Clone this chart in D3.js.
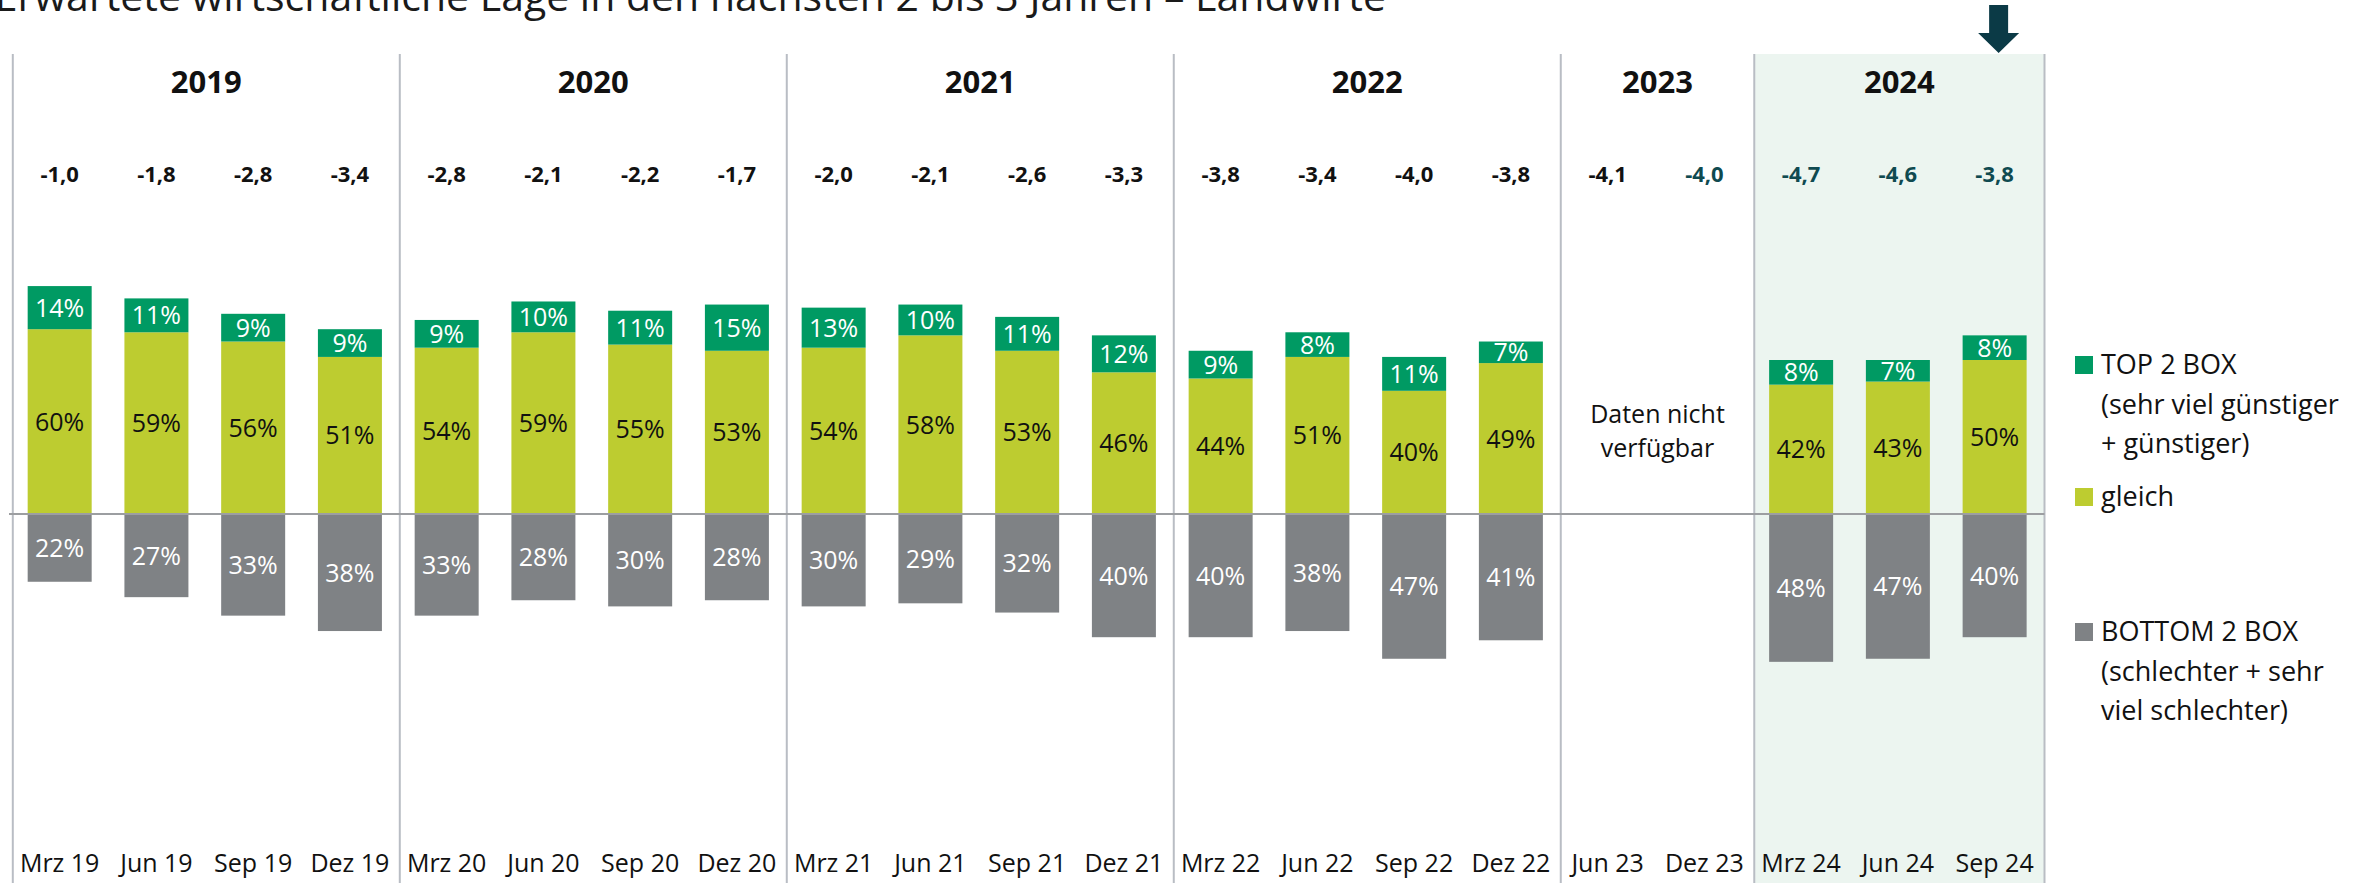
<!DOCTYPE html>
<html>
<head>
<meta charset="utf-8">
<script src="https://cdn.jsdelivr.net/npm/d3@7"></script>
<style>
  html, body { margin: 0; padding: 0; background: #fff; }
  svg { display: block; font-family: "Open Sans", "Noto Sans", sans-serif; }
</style>
</head>
<body>
<div id="chart"></div>
<script>
// survey waves (x axis)
const periods = ["Mrz 19", "Jun 19", "Sep 19", "Dez 19",
                 "Mrz 20", "Jun 20", "Sep 20", "Dez 20",
                 "Mrz 21", "Jun 21", "Sep 21", "Dez 21",
                 "Mrz 22", "Jun 22", "Sep 22", "Dez 22",
                 "Jun 23", "Dez 23",
                 "Mrz 24", "Jun 24", "Sep 24"];
const years = ["2019", "2020", "2021", "2022", "2023", "2024"];
const yearCounts = [4, 4, 4, 4, 2, 3];

// shares in % (null = no data)
const top2 = [14, 11, 9, 9, 9, 10, 11, 15, 13, 10, 11, 12, 9, 8, 11, 7, null, null, 8, 7, 8];
const gleich = [60, 59, 56, 51, 54, 59, 55, 53, 54, 58, 53, 46, 44, 51, 40, 49, null, null, 42, 43, 50];
const bottom2 = [22, 27, 33, 38, 33, 28, 30, 28, 30, 29, 32, 40, 40, 38, 47, 41, null, null, 48, 47, 40];

// index value above each wave
const indexVals = [-1.0, -1.8, -2.8, -3.4, -2.8, -2.1, -2.2, -1.7, -2.0, -2.1, -2.6, -3.3,
                   -3.8, -3.4, -4.0, -3.8, -4.1, -4.0, -4.7, -4.6, -3.8];
const highlighted = ["Dez 23", "Mrz 24", "Jun 24", "Sep 24"];
const currentYear = "2024";
const currentPeriod = "Sep 24";

const legendItems = [
  { key: "top", lines: ["TOP 2 BOX", "(sehr viel günstiger", "+ günstiger)"] },
  { key: "gleich", lines: ["gleich"] },
  { key: "bottom", lines: ["BOTTOM 2 BOX", "(schlechter + sehr", "viel schlechter)"] }
];

const colors = { top: "#009a63", gleich: "#bdcc30", bottom: "#7f8285" };

const W = 2371, H = 883;
const svg = d3.select("#chart").append("svg")
  .attr("width", W).attr("height", H);

const x = d3.scaleBand()
  .domain(periods)
  .range([12.8, 2044.5])
  .padding(0);
const barW = 64;
const cx = p => x(p) + x.bandwidth() / 2 - 1.5;

const y = d3.scaleLinear()
  .domain([-60, 80])
  .range([514 + 60 * 3.08, 514 - 80 * 3.08]);

const fmt = d3.formatLocale({ decimal: ",", thousands: ".", grouping: [3], currency: ["", "€"], minus: "-" }).format(".1f");

// year groups
let acc = 0;
const groups = years.map((yr, i) => {
  const first = periods[acc];
  const last = periods[acc + yearCounts[i] - 1];
  acc += yearCounts[i];
  return { year: yr, x0: x(first), x1: x(last) + x.bandwidth() };
});

// shaded current year
const cur = groups.find(g => g.year === currentYear);
svg.append("rect")
  .attr("x", cur.x0).attr("y", 54)
  .attr("width", cur.x1 - cur.x0).attr("height", H - 54)
  .attr("fill", "#ecf5f0");

// separators
const bounds = [groups[0].x0].concat(groups.map(g => g.x1));
svg.append("g").selectAll("line")
  .data(bounds).join("line")
  .attr("x1", d => d).attr("x2", d => d)
  .attr("y1", 54).attr("y2", H)
  .attr("stroke", "#b9bdc4").attr("stroke-width", 2);

// title (cut off at the top like the original slide)
svg.append("text")
  .attr("x", 1386).attr("y", 11)
  .attr("text-anchor", "end")
  .attr("font-size", 41).attr("font-weight", 400)
  .attr("fill", "#1a1a1a")
  .text("Erwartete wirtschaftliche Lage in den nächsten 2 bis 3 Jahren – Landwirte");

// year labels
svg.append("g").selectAll("text")
  .data(groups).join("text")
  .attr("x", d => (d.x0 + d.x1) / 2).attr("y", 82)
  .attr("dy", "0.35em")
  .attr("text-anchor", "middle")
  .attr("font-size", 31).attr("font-weight", 700)
  .attr("fill", "#111")
  .text(d => d.year);

// index values
svg.append("g").selectAll("text")
  .data(periods).join("text")
  .attr("x", d => cx(d)).attr("y", 174)
  .attr("dy", "0.35em")
  .attr("text-anchor", "middle")
  .attr("font-size", 22).attr("font-weight", 700)
  .attr("fill", d => highlighted.includes(d) ? "#0f4a50" : "#111")
  .text((d, i) => fmt(indexVals[i]));

// bars
const rows = periods.map((p, i) => ({ p, top: top2[i], gleich: gleich[i], bottom: bottom2[i] }))
  .filter(d => d.gleich !== null);

const bars = svg.append("g");
bars.selectAll("rect.g").data(rows).join("rect")
  .attr("x", d => cx(d.p) - barW / 2).attr("width", barW)
  .attr("y", d => y(d.gleich)).attr("height", d => y(0) - y(d.gleich))
  .attr("fill", colors.gleich);
bars.selectAll("rect.t").data(rows).join("rect")
  .attr("x", d => cx(d.p) - barW / 2).attr("width", barW)
  .attr("y", d => y(d.gleich + d.top)).attr("height", d => y(d.gleich) - y(d.gleich + d.top))
  .attr("fill", colors.top);
bars.selectAll("rect.b").data(rows).join("rect")
  .attr("x", d => cx(d.p) - barW / 2).attr("width", barW)
  .attr("y", y(0)).attr("height", d => y(-d.bottom) - y(0))
  .attr("fill", colors.bottom);

// segment labels
const lab = svg.append("g").attr("text-anchor", "middle").attr("font-size", 25);
lab.selectAll("text.t").data(rows).join("text")
  .attr("x", d => cx(d.p)).attr("y", d => y(d.gleich + d.top / 2))
  .attr("dy", "0.36em").attr("fill", "#fff")
  .text(d => d.top + "%");
lab.selectAll("text.g").data(rows).join("text")
  .attr("x", d => cx(d.p)).attr("y", d => y(d.gleich / 2))
  .attr("dy", "0.36em").attr("fill", "#111")
  .text(d => d.gleich + "%");
lab.selectAll("text.b").data(rows).join("text")
  .attr("x", d => cx(d.p)).attr("y", d => y(-d.bottom / 2))
  .attr("dy", "0.36em").attr("fill", "#fff")
  .text(d => d.bottom + "%");

// zero line
svg.append("line")
  .attr("x1", 9).attr("x2", 2044.5)
  .attr("y1", y(0)).attr("y2", y(0))
  .attr("stroke", "#9c9ea1").attr("stroke-width", 2);

// missing data note
const g23 = groups.find(g => g.year === "2023");
svg.append("text")
  .attr("x", (g23.x0 + g23.x1) / 2).attr("y", 423)
  .attr("text-anchor", "middle").attr("font-size", 25).attr("fill", "#111")
  .selectAll("tspan").data(["Daten nicht", "verfügbar"]).join("tspan")
  .attr("x", (g23.x0 + g23.x1) / 2)
  .attr("dy", (d, i) => i === 0 ? 0 : 34)
  .text(d => d);

// x axis labels
svg.append("g").selectAll("text")
  .data(periods).join("text")
  .attr("x", d => cx(d)).attr("y", 872)
  .attr("text-anchor", "middle")
  .attr("font-size", 25).attr("fill", "#111")
  .text(d => d);

// arrow marking current wave
const ax = cx(currentPeriod) + 4;
svg.append("path")
  .attr("d", `M${ax - 9.5},5 H${ax + 9.5} V33 H${ax + 20.5} L${ax},53 L${ax - 20.5},33 H${ax - 9.5} Z`)
  .attr("fill", "#0b3a46");

// legend
const legY = [374, 506, 641];
const leg = svg.append("g").attr("font-size", 27).attr("fill", "#111");
legendItems.forEach((item, i) => {
  leg.append("rect")
    .attr("x", 2075).attr("y", legY[i] - 18)
    .attr("width", 18).attr("height", 18)
    .attr("fill", colors[item.key]);
  leg.append("text")
    .attr("x", 2101).attr("y", legY[i])
    .selectAll("tspan").data(item.lines).join("tspan")
    .attr("x", 2101)
    .attr("dy", (d, j) => j === 0 ? 0 : 39.5)
    .text(d => d);
});
</script>
</body>
</html>
